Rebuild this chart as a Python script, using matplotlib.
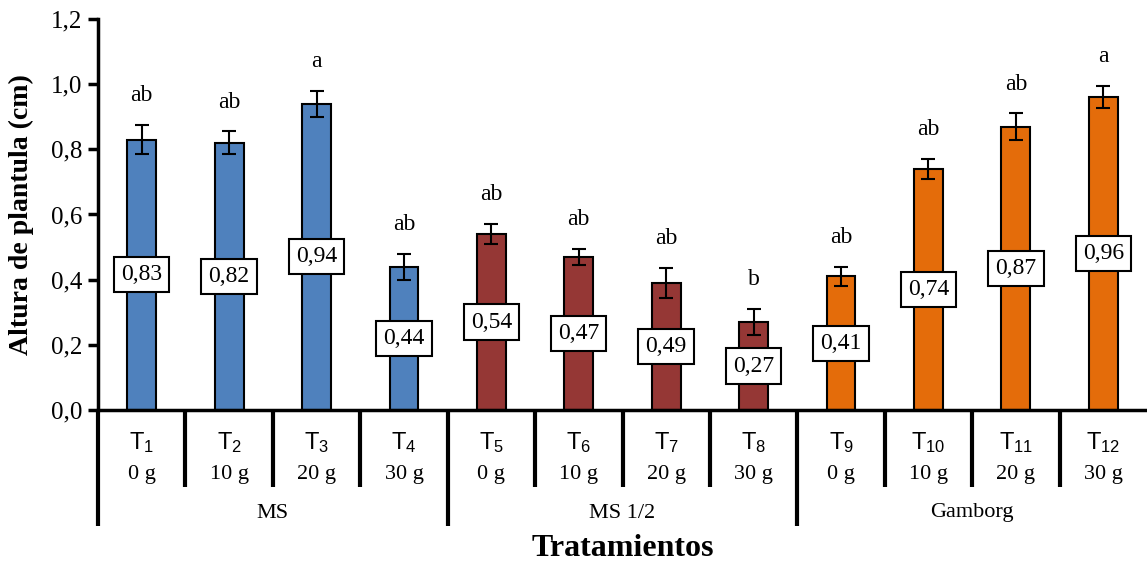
import matplotlib
matplotlib.use("Agg")
import matplotlib.pyplot as plt
import numpy as np

# data
treatments = [f"T{i}" for i in range(1, 13)]
doses = ["0 g", "10 g", "20 g", "30 g"] * 3
media = ["MS", "MS 1/2", "Gamborg"]
heights = [0.83, 0.82, 0.94, 0.44, 0.54, 0.47, 0.39, 0.27, 0.41, 0.74, 0.87, 0.96]
errors = [0.045, 0.035, 0.04, 0.04, 0.03, 0.025, 0.045, 0.04, 0.03, 0.03, 0.04, 0.034]
value_labels = ["0,83", "0,82", "0,94", "0,44", "0,54", "0,47", "0,49", "0,27",
                "0,41", "0,74", "0,87", "0,96"]
letters = ["ab", "ab", "a", "ab", "ab", "ab", "ab", "b", "ab", "ab", "ab", "a"]

MEDIA_COLORS = ['#4F81BD', '#953735', '#E46C0A']
SERIF = 'Liberation Serif'
SANS = 'Liberation Sans'

W, H = 1147, 565
fig = plt.figure(figsize=(W / 100, H / 100), dpi=100)
x0, x1, y_top, y_bot = 98, 1147, 19, 410
ax = fig.add_axes([x0 / W, (H - y_bot) / H, (x1 - x0) / W, (y_bot - y_top) / H])
ah = y_bot - y_top  # axes height in px

x = np.arange(len(heights))
colors = [MEDIA_COLORS[i // 4] for i in range(len(heights))]
ax.bar(x, heights, width=0.33, color=colors, edgecolor='black', linewidth=1.5, zorder=2)
ax.errorbar(x, heights, yerr=errors, fmt='none', ecolor='black', elinewidth=1.5,
            capsize=5, capthick=1.5, zorder=3)

for xi, h, e, lab, let in zip(x, heights, errors, value_labels, letters):
    ax.text(xi, h / 2, lab, ha='center', va='center', fontsize=17, family=SERIF, zorder=4,
            bbox=dict(boxstyle='square,pad=0.3', fc='white', ec='black', lw=1.5))
    ax.text(xi, h + e + 0.058, let, ha='center', va='bottom', fontsize=17, family=SERIF)

ax.set_xlim(-0.5, len(heights) - 0.5)
ax.set_ylim(0, 1.2)
ax.set_yticks(np.arange(0, 1.21, 0.2))
ax.set_yticklabels([f"{v:.1f}".replace('.', ',') for v in np.arange(0, 1.21, 0.2)],
                   family=SERIF, fontsize=18)
ax.tick_params(axis='y', direction='out', length=7, width=2.5, pad=4)
ax.set_xticks([])
for s in ['top', 'right']:
    ax.spines[s].set_visible(False)
ax.spines['left'].set_linewidth(2.5)
ax.spines['bottom'].set_linewidth(2.5)

# category table below the axis
trans = ax.get_xaxis_transform()
def fy(px):
    return -px / ah

row1, row2, row3, row_end1, row_end2 = 33, 65, 103, 77, 116
for xi, t, d in zip(x, treatments, doses):
    ax.text(xi, fy(row1), r'$\mathregular{T_{%s}}$' % t[1:], transform=trans, ha='center',
            va='center', fontsize=17, family=SANS)
    ax.text(xi, fy(row2), d, transform=trans, ha='center', va='center', fontsize=16, family=SERIF)
for k in range(0, len(heights)):
    end = row_end2 if k % 4 == 0 else row_end1
    ax.plot([k - 0.5, k - 0.5], [0, fy(end)], transform=trans, color='black', lw=3,
            clip_on=False, solid_capstyle='butt')
for g, m in enumerate(media):
    ax.text(g * 4 + 1.5, fy(row3), m, transform=trans, ha='center', va='center',
            fontsize=16, family=SERIF)

ax.set_ylabel('Altura de plantula (cm)', family=SERIF, fontsize=20, fontweight='bold')
ax.yaxis.set_label_coords(-64 / (x1 - x0), 0.5)
ax.text(0.5, fy(139), 'Tratamientos', transform=ax.transAxes, ha='center', va='center',
        family=SERIF, fontsize=23, fontweight='bold')

fig.savefig('out.png', dpi=100)
